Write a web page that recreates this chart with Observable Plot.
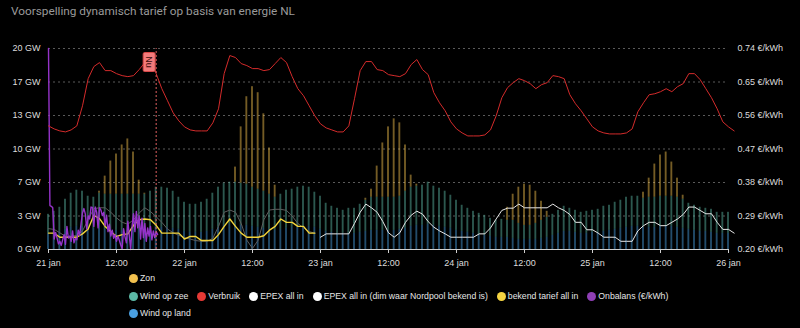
<!DOCTYPE html>
<html>
<head>
<meta charset="utf-8">
<script src="https://cdn.jsdelivr.net/npm/d3@7"></script>
<script src="https://cdn.jsdelivr.net/npm/@observablehq/plot@0.6"></script>
<style>
  html, body { margin: 0; padding: 0; background: #000; }
  #wrap { position: relative; width: 800px; height: 328px; background: #000; overflow: hidden; }
  #title { position: absolute; left: 11px; top: 4px; font: 11.8px Roboto, "Liberation Sans", Arial, sans-serif; color: #9a9a9a; }
  #chart { position: absolute; left: 0; top: 0; }
  .lg-row { position: absolute; left: 129px; display: flex; align-items: center; font: 8.7px "Liberation Sans", Arial, sans-serif; color: #e6e6e6; white-space: nowrap; }
  .lg-item { display: flex; align-items: center; margin-right: 9px; }
  .lg-dot { width: 9px; height: 9px; border-radius: 50%; margin-right: 2px; }
</style>
</head>
<body>
<div id="wrap">
  <div id="chart"></div>
  <div id="title">Voorspelling dynamisch tarief op basis van energie NL</div>
  <div id="legend"></div>
</div>
<script>
// ---------- DATA ----------
// x tick labels (every 12 hours from 21 jan 00:00)
const xTickHours = [0, 12, 24, 36, 48, 60, 72, 84, 96, 108, 120];
const xTickLabels = ["21 jan", "12:00", "22 jan", "12:00", "23 jan", "12:00", "24 jan", "12:00", "25 jan", "12:00", "26 jan"];
const gwTickLabels = ["0 GW", "3 GW", "7 GW", "10 GW", "13 GW", "17 GW", "20 GW"];
const priceTickLabels = ["0.20 €/kWh", "0.29 €/kWh", "0.38 €/kWh", "0.47 €/kWh", "0.56 €/kWh", "0.65 €/kWh", "0.74 €/kWh"];
const gwMax = 20;
const priceMin = 0.20, priceMax = 0.74;
const nuHour = 19; // "Nu" = 21 jan 19:00

// Hourly generation (GW), hour 0..120
const windOpLand = [
  1.6,1.7,1.8,2.0,2.2,2.3,2.3,2.2,2.1,2.1,
  2.0,2.0,1.9,1.9,1.9,1.9,2.0,2.0,2.1,2.2,
  2.2,2.2,2.1,2.0,1.8,1.7,1.7,1.7,1.8,2.0,
  2.2,2.4,2.5,2.5,2.4,2.4,2.3,2.2,2.1,2.0,
  1.9,2.0,2.1,2.2,2.3,2.3,2.3,2.2,2.0,1.8,
  1.7,1.6,1.6,1.6,1.6,1.7,1.8,1.9,1.9,1.9,
  1.9,1.9,2.0,2.1,2.3,2.4,2.4,2.5,2.4,2.3,
  2.2,2.1,1.9,1.8,1.7,1.6,1.5,1.4,1.3,1.2,
  1.2,1.2,1.1,1.0,1.0,1.0,1.0,1.1,1.2,1.4,
  1.6,1.8,1.8,1.7,1.6,1.6,1.7,1.7,1.8,1.9,
  2.0,2.1,2.2,2.3,2.3,2.2,2.2,2.2,2.3,2.3,
  2.3,2.2,2.1,2.0,1.9,1.8,1.8,1.7,1.6,1.6,1.6
];
const windOpZee = [
  1.9,2.1,2.4,3.0,3.4,3.6,3.5,3.1,3.1,3.5,
  3.5,3.5,3.6,3.6,3.6,3.6,3.5,3.5,3.7,4.0,
  4.0,3.9,3.7,3.2,2.9,2.8,2.8,3.0,3.2,3.6,
  4.0,4.2,4.2,4.2,4.2,4.1,3.9,3.8,3.7,3.5,
  3.3,3.5,3.8,3.8,3.9,4.0,3.9,3.5,3.3,2.8,
  2.6,2.5,2.3,2.5,2.5,2.8,3.1,3.3,3.3,3.3,
  3.3,3.3,3.3,3.7,3.9,3.9,4.0,4.2,3.9,3.8,
  3.6,3.3,3.0,2.6,2.4,2.2,2.1,2.0,1.8,1.7,
  1.8,1.7,1.8,1.6,1.4,1.4,1.6,1.8,2.0,2.1,
  2.3,2.5,2.3,2.2,2.1,2.2,2.2,2.3,2.5,2.5,
  2.7,2.8,3.0,3.0,3.0,2.9,3.0,3.0,3.0,3.0,
  3.0,3.0,2.9,2.6,2.5,2.4,2.3,2.3,2.1,2.1,2.1
];
const zon = [
  0,0,0,0,0,0,0,0,0,0.2,
  1.8,3.3,4.0,4.9,5.5,4.2,1.4,0.1,0,0,
  0,0,0,0,0,0,0,0,0,0,
  0,0,0,1.5,5.6,8.7,10.0,9.6,7.7,4.6,
  1.2,0,0,0,0,0,0,0,0,0,
  0,0,0,0,0,0,0.2,0.8,3.1,5.4,
  7.0,7.8,7.3,4.6,1.2,0.2,0,0,0,0,
  0,0,0,0,0,0,0,0,0,0,
  0,1.3,2.6,3.6,4.1,4.0,3.2,1.9,0.6,0,
  0,0,0,0,0,0,0,0,0,0,
  0,0,0,0,0,0.6,1.9,3.3,4.1,4.4,
  3.4,1.9,0.4,0,0,0,0,0,0,0,0
];

// Verbruik (GW), hour 0..121
const verbruik = [
  12.3,12.0,11.8,11.7,11.9,12.3,14.3,17.0,18.2,18.6,
  17.8,17.8,17.5,17.3,17.2,17.3,17.9,18.6,19.2,17.5,
  16.0,14.8,13.6,12.8,12.2,11.9,11.8,11.8,11.8,12.6,
  14.0,17.5,19.3,19.1,18.5,18.3,18.0,18.0,17.8,17.9,
  18.5,19.1,18.6,17.2,16.0,15.3,14.3,13.3,12.5,12.1,
  11.9,11.7,11.7,12.3,15.0,17.8,18.7,18.7,17.9,17.8,
  17.4,17.3,17.2,17.5,18.4,18.9,17.9,17.4,15.6,14.6,
  13.8,12.7,12.0,11.6,11.3,11.3,11.3,11.4,11.9,13.3,
  15.1,16.1,16.6,17.0,16.8,16.5,16.0,16.4,16.6,17.3,
  17.2,17.0,15.4,14.5,13.8,13.0,12.2,11.8,11.6,11.5,
  11.5,11.5,11.6,12.0,13.7,14.6,15.4,15.5,15.7,16.0,
  15.7,16.2,16.5,17.5,17.5,16.9,16.0,15.1,14.0,12.7,
  12.2,11.8
];

// EPEX all in (€/kWh), hour 48..121
const epexStart = 48;
const epexAllIn = [
  0.233,0.242,0.242,0.242,0.242,0.242,0.270,0.300,0.322,0.312,
  0.300,0.275,0.245,0.233,0.245,0.273,0.292,0.303,0.295,0.275,
  0.260,0.250,0.242,0.233,0.233,0.233,0.233,0.233,0.242,0.242,
  0.258,0.282,0.305,0.311,0.311,0.322,0.312,0.312,0.312,0.312,
  0.312,0.322,0.312,0.305,0.294,0.273,0.273,0.253,0.253,0.244,
  0.233,0.233,0.233,0.222,0.222,0.222,0.250,0.264,0.273,0.273,
  0.264,0.264,0.273,0.282,0.294,0.314,0.314,0.305,0.296,0.296,
  0.273,0.254,0.254,0.244
];
// EPEX all in, dim where Nordpool is known (€/kWh), hour 0..47
const epexDim = [
  0.256,0.254,0.245,0.235,0.235,0.238,0.250,0.280,0.310,0.312,
  0.312,0.300,0.285,0.273,0.268,0.280,0.298,0.312,0.302,0.288,
  0.273,0.255,0.245,0.238,0.232,0.228,0.224,0.222,0.222,0.230,
  0.262,0.300,0.306,0.300,0.270,0.225,0.203,0.225,0.280,0.306,
  0.308,0.308,0.305,0.290,0.270,0.258,0.248,0.244
];
// bekend tarief all in (€/kWh), hour 0..47
const bekendTarief = [
  0.244,0.244,0.233,0.233,0.233,0.233,0.242,0.255,0.292,0.283,
  0.262,0.248,0.235,0.240,0.242,0.265,0.280,0.282,0.280,0.265,
  0.244,0.244,0.244,0.244,0.228,0.235,0.235,0.224,0.224,0.224,
  0.240,0.262,0.282,0.262,0.244,0.233,0.233,0.233,0.237,0.252,
  0.262,0.282,0.273,0.273,0.262,0.262,0.244,0.244
];
// Onbalans (€/kWh), quarter-hours from hour 0
const onbalans = [
  0.740,0.318,0.316,0.312,0.228,0.246,0.232,0.215,0.222,0.211,
  0.226,0.240,0.214,0.262,0.231,0.236,0.222,0.250,0.218,0.230,
  0.226,0.252,0.238,0.270,0.298,0.310,0.295,0.255,0.290,0.282,
  0.314,0.313,0.262,0.314,0.300,0.258,0.312,0.306,0.291,0.300,
  0.265,0.292,0.248,0.268,0.236,0.252,0.230,0.240,0.222,0.236,
  0.225,0.212,0.203,0.256,0.234,0.218,0.276,0.240,0.200,0.262,
  0.296,0.248,0.302,0.258,0.290,0.228,0.284,0.232,0.270,0.222,
  0.258,0.236,0.262,0.226,0.250,0.232,0.248,0.240
];

// Series names & colours
const barSeries = ["Wind op land", "Wind op zee", "Zon"];
const barColors = ["#4a9fe0", "#5cb8a5", "#f2c14e"];
const legendRows = [
  [["Zon", "#f2c14e"]],
  [["Wind op zee", "#5cb8a5"], ["Verbruik", "#e53935"], ["EPEX all in", "#ffffff"],
   ["EPEX all in (dim waar Nordpool bekend is)", "#ffffff"], ["bekend tarief all in", "#f5d442"],
   ["Onbalans (€/kWh)", "#8e3fb5"]],
  [["Wind op land", "#4a9fe0"]]
];

// ---------- BUILD ----------
const toGW = p => (p - priceMin) / (priceMax - priceMin) * gwMax;
const yTicks = d3.range(7).map(i => i * gwMax / 6);

const barData = [];
windOpLand.forEach((v, h) => {
  barData.push({h, s: barSeries[0], v});
  barData.push({h, s: barSeries[1], v: windOpZee[h]});
  barData.push({h, s: barSeries[2], v: zon[h]});
});
const verbruikData = verbruik.map((v, i) => ({h: i, v}));
const epexData = epexAllIn.map((p, i) => ({h: epexStart + i, p}));
const epexDimData = epexDim.map((p, i) => ({h: i, p}));
const bekendData = bekendTarief.map((p, i) => ({h: i, p}));
const onbalansData = onbalans.map((p, i) => ({h: i * 0.25, p}));

function nuLabel(...args) {
  const scales = args.find(a => a && typeof a.x === "function" && typeof a.y === "function");
  const x = scales.x(nuHour), y = scales.y(gwMax);
  const g = d3.create("svg:g");
  g.append("rect").attr("x", x - 12.5).attr("y", y + 4.5).attr("width", 12).attr("height", 19)
    .attr("rx", 1.5).attr("fill", "#f27b7b").attr("stroke", "#d94848").attr("stroke-width", 1);
  g.append("text").attr("transform", `translate(${x - 6.5},${y + 14}) rotate(90)`)
    .attr("text-anchor", "middle").attr("dominant-baseline", "central")
    .attr("font-size", 9).attr("font-family", "Liberation Sans, Arial").attr("fill", "#3a0a0a").text("Nu");
  return g.node();
}

const chart = Plot.plot({
  width: 800,
  height: 270,
  marginTop: 48,
  marginBottom: 21,
  marginLeft: 48,
  marginRight: 72,
  style: {background: "transparent", color: "#dcdcdc", fontSize: "9px", fontFamily: "Liberation Sans, Arial, sans-serif"},
  x: {domain: [0, 120], label: null},
  y: {domain: [0, gwMax], label: null},
  color: {domain: barSeries, range: barColors},
  marks: [
    Plot.gridY(yTicks.slice(1), {stroke: "#5a5a5a", strokeOpacity: 1, strokeDasharray: "2,3"}),
    Plot.rectY(barData, Plot.stackY({
      x1: d => d.h - 0.5, x2: d => d.h + 0.5, y: "v", fill: "s", order: barSeries,
      fillOpacity: 0.48, insetLeft: 1.9, insetRight: 1.9
    })),
    Plot.line(epexDimData, {x: "h", y: d => toGW(d.p), stroke: "#5e5e5e", strokeWidth: 1}),
    Plot.line(bekendData, {x: "h", y: d => toGW(d.p), stroke: "#f2d33a", strokeWidth: 1.4}),
    Plot.line(epexData, {x: "h", y: d => toGW(d.p), stroke: "#e8e8e8", strokeWidth: 1}),
    Plot.line(onbalansData, {x: "h", y: d => toGW(d.p), stroke: "#9533c9", strokeWidth: 1.4}),
    Plot.line(verbruikData, {x: "h", y: "v", stroke: "#d42b2b", strokeWidth: 1}),
    Plot.ruleX([nuHour], {y1: 0, y2: gwMax, stroke: "#e06060", strokeDasharray: "2,2", strokeWidth: 1}),
    nuLabel,
    Plot.ruleY([0], {stroke: "#cfcfcf", strokeWidth: 1}),
    Plot.axisX({ticks: xTickHours, tickFormat: d => xTickLabels[xTickHours.indexOf(d)], tickSize: 4, tickPadding: 6, stroke: "#cfcfcf", label: null}),
    Plot.axisY({ticks: yTicks, tickFormat: d => gwTickLabels[yTicks.indexOf(d)], tickSize: 0, tickPadding: 8, anchor: "left", label: null}),
    Plot.axisY({ticks: yTicks, tickFormat: d => priceTickLabels[yTicks.indexOf(d)], tickSize: 0, tickPadding: 9, anchor: "right", label: null})
  ]
});
document.getElementById("chart").appendChild(chart);

// Legend
const legend = document.getElementById("legend");
const rowY = [273, 291, 308];
legendRows.forEach((row, r) => {
  const div = document.createElement("div");
  div.className = "lg-row";
  div.style.top = rowY[r] + "px";
  row.forEach(([name, col]) => {
    const it = document.createElement("div");
    it.className = "lg-item";
    const dot = document.createElement("span");
    dot.className = "lg-dot";
    dot.style.background = col;
    const t = document.createElement("span");
    t.textContent = name;
    it.appendChild(dot); it.appendChild(t);
    div.appendChild(it);
  });
  legend.appendChild(div);
});
</script>
</body>
</html>
